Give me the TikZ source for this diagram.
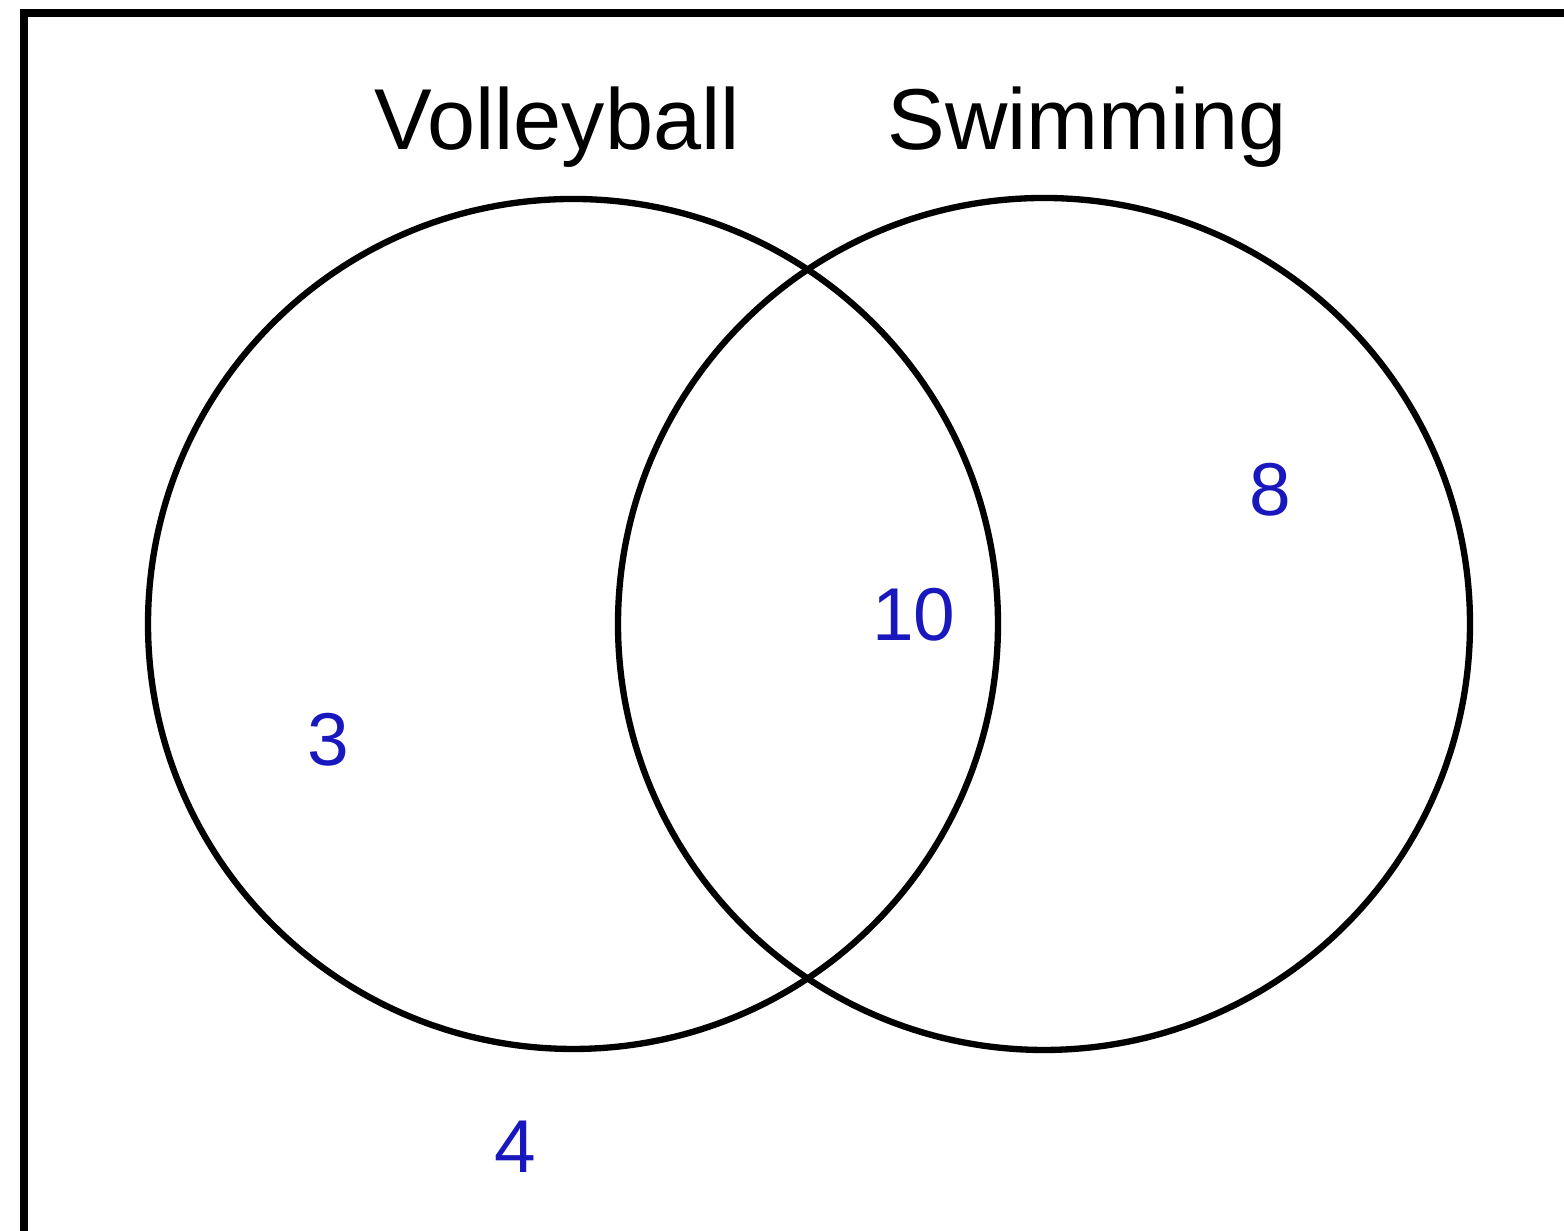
\documentclass[tikz,border=0pt]{standalone}
\usepackage{fontspec,xcolor}
\setmainfont{Liberation Sans}
\usetikzlibrary{positioning}
\definecolor{numblue}{RGB}{24,24,190}

\begin{document}
\begin{tikzpicture}[
  setlabel/.style={anchor=base,inner sep=0pt,font=\fontsize{24.6}{28}\selectfont},
  count/.style={anchor=base,inner sep=0pt,text=numblue,font=\fontsize{21.3}{25}\selectfont},
  ring/.style={line width=1.8pt}]
\useasboundingbox (0,0) rectangle (15.64,12.31);
\clip (0,0) rectangle (15.64,12.31);
\draw[line width=2.5pt] (0.24,-1) rectangle (16.5,12.18);
\coordinate (cv) at (5.73,6.07); \coordinate (cs) at (10.44,6.07);
\draw[ring] (cv) circle (4.25); \draw[ring] (cs) circle (4.26);
\node[setlabel] (lv) at (5.57,10.81) {Volleyball};
\node[setlabel] (ls) at (10.87,10.81) {Swimming};
\node[count] (nv) at (3.28,4.65) {3};
\node[count] (nb) at (9.14,5.90) {10};
\node[count] (ns) at (12.70,7.15) {8};
\node[count] (nn) at (5.15,0.58) {4};
\end{tikzpicture}
\end{document}
